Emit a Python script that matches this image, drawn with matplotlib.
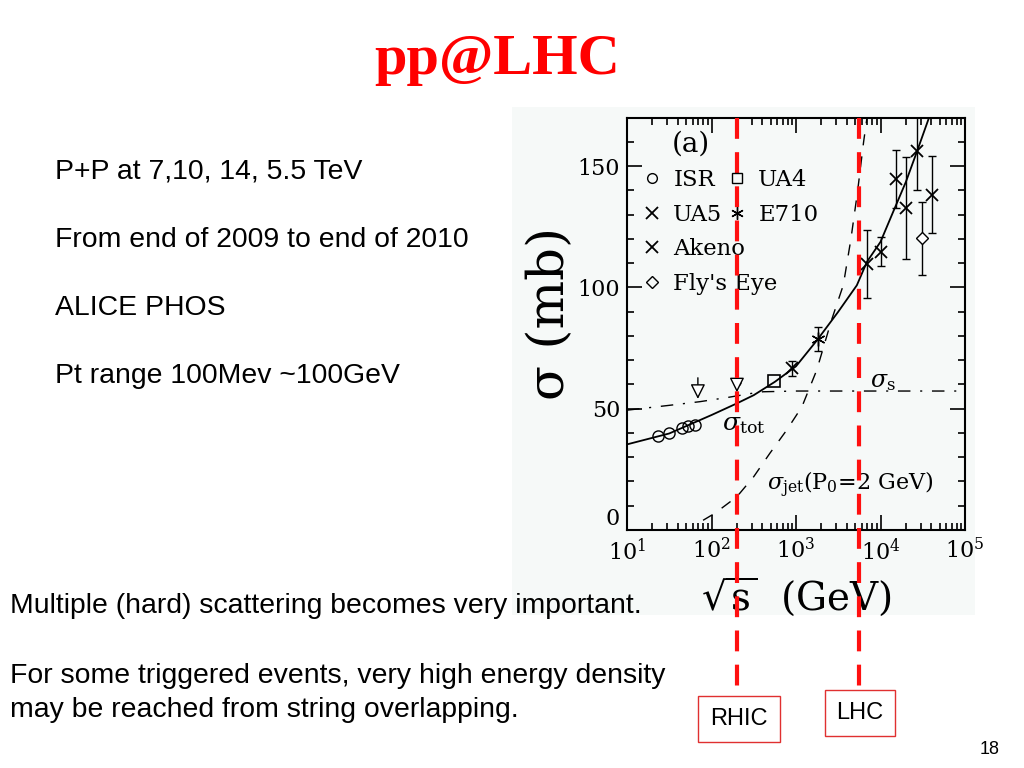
import numpy as np
import matplotlib
matplotlib.use("Agg")
import matplotlib.pyplot as plt
from matplotlib.lines import Line2D
from matplotlib.ticker import MultipleLocator, LogLocator, FixedLocator

plt.rcParams['mathtext.fontset'] = 'dejavuserif'

# --- datos ---
isr_s = [23, 31, 45, 53, 63]
isr_sig = [38.6, 39.8, 41.9, 42.8, 43.4]

ua4_s = [546]
ua4_sig = [61.4]

ua5_s = [900]
ua5_sig = [66.6]
ua5_err = [3]

e710_s = [1800]
e710_sig = [78.8]
e710_err = [5]

akeno_s = [7000, 10000, 15100, 20000, 26900, 40400]
akeno_sig = [109.5, 114.7, 144.6, 132.8, 156.2, 138.3]
akeno_err = [14, 6, 12, 21, 16, 16]

flys_s = [30800]
flys_sig = [120.2]
flys_err = [15]

# flechas (limites) en 69 y 200 GeV
arrow_s = [69, 200]
arrow_top = [63.9, 61.2]
arrow_tip = [52.9, 55.6]

# curvas: log10(sqrt s) y sigma
tot_logs = [1.0, 1.5, 2.0, 2.3, 2.5, 2.75, 3.0, 3.25, 3.5, 3.72, 3.84, 4.0, 4.15, 4.3, 4.43, 4.57]
tot_sig = [35.3, 39.8, 47.4, 52.2, 55.6, 61.1, 67.5, 78.3, 90.0, 100.9, 110.6, 118.8, 131.2, 143.5, 155.9, 169.6]

s_logs = [1.0, 1.5, 1.86, 2.2, 2.45, 2.61, 3.0, 4.0, 5.0]
s_sig = [49.4, 51.4, 52.9, 54.7, 56.2, 57.0, 57.3, 57.3, 57.3]

jet_logs = [1.9, 2.04, 2.3, 2.5, 2.69, 2.89, 3.07, 3.245, 3.42, 3.56, 3.65, 3.73, 3.8, 3.84]
jet_sig = [4.0, 6.9, 13.7, 22.0, 31.6, 41.2, 50.8, 65.9, 86.5, 101.0, 120.0, 140.0, 160.0, 170.0]

colliders = ["RHIC", "LHC"]
collider_s = [200, 5500]
collider_low = [-70, -67]   # hasta donde bajan las lineas rojas (mb, fuera del eje)

text_top = ["P+P at 7,10, 14, 5.5 TeV",
            "From end of 2009 to end of 2010",
            "ALICE PHOS",
            "Pt range 100Mev ~100GeV"]
text_bottom = ["Multiple (hard) scattering becomes very important.",
               "For some triggered events, very high energy density",
               "may be reached from string overlapping."]

asterisk = (6, 2, 0)


def fx(x):
    return x / 1024.0


def fy(y):
    return 1 - y / 768.0


fig = plt.figure(figsize=(10.24, 7.68), dpi=100)
fig.patch.set_facecolor('white')

# fondo de la figura escaneada
fig.patches.append(plt.Rectangle((fx(512), fy(615)), fx(975 - 512), (615 - 107) / 768.0,
                                 transform=fig.transFigure, facecolor='#f6f9f8',
                                 edgecolor='none', zorder=-10))

ax = fig.add_axes([fx(627), fy(530), fx(965 - 627), (530 - 117.7) / 768.0])
ax.set_facecolor('none')
ax.set_xscale('log')
ax.set_xlim(10, 1e5)
ax.set_ylim(0, 170)

serif = 'DejaVu Serif'

# curvas
ax.plot(10 ** np.array(tot_logs), tot_sig, color='black', lw=1.3)
ax.plot(10 ** np.array(s_logs), s_sig, color='black', lw=1.0, linestyle=(0, (9, 7, 1.5, 7)))
ax.plot(10 ** np.array(jet_logs), jet_sig, color='black', lw=1.0, linestyle=(0, (8, 8)))

# datos
ax.plot(isr_s, isr_sig, 'o', mfc='none', mec='black', ms=8, mew=1)
ax.plot(ua4_s, ua4_sig, 's', mfc='none', mec='black', ms=8, mew=1.2)
ax.errorbar(ua5_s, ua5_sig, yerr=ua5_err, fmt='none', ecolor='black', capsize=3, elinewidth=1)
ax.plot(ua5_s, ua5_sig, 'x', color='black', ms=9, mew=1.3)
ax.errorbar(e710_s, e710_sig, yerr=e710_err, fmt='none', ecolor='black', capsize=3, elinewidth=1)
ax.plot(e710_s, e710_sig, marker=asterisk, ls='none', color='black', ms=10, mew=1)
ax.errorbar(akeno_s, akeno_sig, yerr=akeno_err, fmt='none', ecolor='black', capsize=3, elinewidth=1)
ax.plot(akeno_s, akeno_sig, 'x', color='black', ms=9, mew=1.3)
ax.errorbar(flys_s, flys_sig, yerr=flys_err, fmt='none', ecolor='black', capsize=3, elinewidth=1)
ax.plot(flys_s, flys_sig, 'D', mfc='white', mec='black', ms=6, mew=1)

for s, top, tip in zip(arrow_s, arrow_top, arrow_tip):
    ax.annotate('', xy=(s, tip), xytext=(s, top),
                arrowprops=dict(arrowstyle='-|>,head_width=0.45,head_length=0.9', fc='white', ec='black', lw=1))
ax.plot([arrow_s[1]], [arrow_top[1]], 'o', mfc='white', mec='black', ms=5, mew=1)

# textos internos
ax.text(0.19, 0.935, '(a)', transform=ax.transAxes, fontsize=20, family=serif, ha='center', va='center')
ax.text(10 ** 2.12, 43.5, r'$\sigma_{\rm tot}$', fontsize=18, ha='left', va='center')
ax.text(10 ** 3.88, 61.5, r'$\sigma_{\rm s}$', fontsize=17, ha='left', va='center')
ax.text(10 ** 2.66, 18.5, r'$\sigma_{\rm jet}$(P$_0$=2 GeV)', fontsize=16, family=serif, ha='left', va='center')

# leyenda en dos bloques
h_isr = Line2D([], [], marker='o', ls='none', mfc='none', mec='black', ms=7)
h_ua5 = Line2D([], [], marker='x', ls='none', color='black', ms=8, mew=1.3)
h_ak = Line2D([], [], marker='x', ls='none', color='black', ms=8, mew=1.3)
h_fly = Line2D([], [], marker='D', ls='none', mfc='none', mec='black', ms=6)
h_ua4 = Line2D([], [], marker='s', ls='none', mfc='none', mec='black', ms=7)
h_e710 = Line2D([], [], marker=asterisk, ls='none', color='black', ms=9)

leg_kw = dict(frameon=False, prop={'family': serif, 'size': 16.4}, handlelength=0.8,
              handletextpad=0.53, labelspacing=0.55, borderpad=0, borderaxespad=0,
              bbox_transform=fig.transFigure, loc='upper left')
leg1 = ax.legend([h_isr, h_ua5, h_ak, h_fly], ['ISR', 'UA5', 'Akeno', "Fly's Eye"],
                 bbox_to_anchor=(fx(643), fy(169)), **leg_kw)
ax.add_artist(leg1)
ax.legend([h_ua4, h_e710], ['UA4', 'E710'], bbox_to_anchor=(fx(728), fy(169)), **leg_kw)

# ejes
ax.yaxis.set_major_locator(FixedLocator([0, 50, 100, 150]))
ax.yaxis.set_minor_locator(MultipleLocator(10))
ax.xaxis.set_minor_locator(LogLocator(base=10, subs=np.arange(2, 10), numticks=20))
ax.set_xticks([10, 100, 1000, 1e4, 1e5])
ax.set_xticklabels([r'$10^{1}$', r'$10^{2}$', r'$10^{3}$', r'$10^{4}$', r'$10^{5}$'])
ax.tick_params(which='both', direction='in', top=True, right=True, width=1.2, colors='black')
ax.tick_params(which='major', length=11, labelsize=16, pad=5)
ax.tick_params(which='minor', length=5)
ylabs = ax.get_yticklabels()
for lab in ylabs:
    lab.set_family(serif)
ylabs[0].set_va('bottom')   # el "0" va un poco por encima, como en el original
for sp in ax.spines.values():
    sp.set_linewidth(1.5)

ax.set_ylabel('σ (mb)', fontsize=37, family=serif, labelpad=2)
ax.yaxis.label.set_y(0.525)
ax.set_xlabel(r'$\sqrt{\rm s}$  (GeV)', fontsize=28, family=serif, labelpad=8)

# lineas rojas RHIC / LHC
for name, s, low in zip(colliders, collider_s, collider_low):
    ax.plot([s, s], [170, low], color='#ff1010', lw=3, linestyle=(0, (5, 3.2)), clip_on=False, zorder=5)

fig.text(fx(739), fy(719), colliders[0], fontsize=17, family='Liberation Sans', ha='center', va='center',
         bbox=dict(boxstyle='square,pad=0.5', fc='white', ec='#e03030', lw=1))
fig.text(fx(860), fy(713), colliders[1], fontsize=17, family='Liberation Sans', ha='center', va='center',
         bbox=dict(boxstyle='square,pad=0.5', fc='white', ec='#e03030', lw=1))

# textos de la diapositiva
fig.text(fx(497), fy(60), 'pp@LHC', fontsize=42, family='Liberation Serif', weight='bold',
         color='#ff0000', ha='center', va='center')
for i, t in enumerate(text_top):
    fig.text(fx(55), fy(172 + i * 68), t, fontsize=20.4, family='Liberation Sans', ha='left', va='center')
for t, y in zip(text_bottom, [606, 676, 710]):
    fig.text(fx(10), fy(y), t, fontsize=20.4, family='Liberation Sans', ha='left', va='center')
fig.text(fx(990), fy(750), '18', fontsize=13, family='Liberation Sans', ha='center', va='center')

fig.savefig('out.png', dpi=100)
